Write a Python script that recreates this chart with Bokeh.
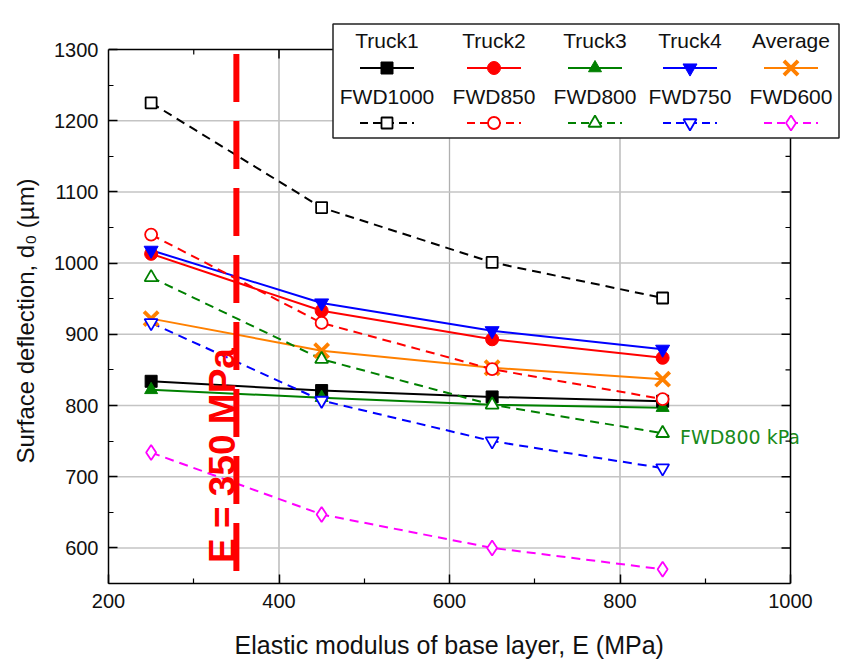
import math
from bokeh.plotting import figure
from bokeh.models import Range1d, FixedTicker
from bokeh.core.properties import value
from bokeh.embed import file_html
from bokeh.resources import INLINE

# ---------------- data ----------------
E = [250, 450, 650, 850]
truck1 = [834, 821, 812, 806]
truck2 = [1013, 933, 893, 867]
truck3 = [822, 811, 801, 797]
truck4 = [1018, 944, 905, 879]
average = [922, 877, 853, 837]
fwd1000 = [1225, 1078, 1001, 951]
fwd850 = [1040, 916, 851, 809]
fwd800 = [980, 865, 801, 761]
fwd750 = [916, 807, 750, 712]
fwd600 = [734, 647, 600, 570]

E_ref = 350
ref_text = "E = 350 MPa"
note_text = "FWD800 kPa"
x_title = "Elastic modulus of base layer, E (MPa)"
y_title = "Surface deflection, d\u2080 (\u00b5m)"

x_ticks = [200, 400, 600, 800, 1000]
x_minor = [300, 500, 700, 900]
y_ticks = [600, 700, 800, 900, 1000, 1100, 1200, 1300]
y_minor = [550, 650, 750, 850, 950, 1050, 1150, 1250]
X_MIN, X_MAX = 200, 1000
Y_MIN, Y_MAX = 550, 1300

# ---------------- layout helpers ----------------
SX = 0.8525   # px per x unit
SY = 0.712    # px per y unit
FRAME_W, FRAME_H = 737, 565
IMG_LEFT, IMG_BOTTOM = 107.5, 582.5   # image pixel of (X_MIN, Y_MIN)

def px2x(px):
    return X_MIN + (px - IMG_LEFT) / SX

def px2y(py):
    return Y_MIN + (IMG_BOTTOM - py) / SY

FONT = "Liberation Sans"
NBSP = "\u00a0"

p = figure(frame_width=FRAME_W, frame_height=FRAME_H,
           x_range=Range1d(X_MIN, X_MIN + FRAME_W / SX),
           y_range=Range1d(Y_MIN, Y_MIN + FRAME_H / SY),
           output_backend="svg", toolbar_location=None,
           min_border_left=108, min_border_right=8,
           min_border_top=18, min_border_bottom=76)
p.outline_line_color = None
p.xgrid.visible = False
p.ygrid.visible = False
p.background_fill_color = "white"
p.border_fill_color = "white"

for ax, ticks, minor, bounds in ((p.xaxis, x_ticks, x_minor, (X_MIN, X_MAX)),
                                 (p.yaxis, y_ticks, y_minor, (Y_MIN, Y_MAX))):
    ax.ticker = FixedTicker(ticks=ticks, minor_ticks=minor)
    ax.bounds = bounds
    ax.axis_line_width = 1.5
    ax.axis_line_color = "black"
    ax.major_tick_in = 9
    ax.major_tick_out = 0
    ax.minor_tick_in = 5
    ax.minor_tick_out = 0
    ax.major_tick_line_width = 1.5
    ax.minor_tick_line_width = 1.2
    ax.major_label_text_font = FONT
    ax.major_label_text_font_size = "20px"
    ax.major_label_text_color = "#111111"
    ax.major_label_standoff = 10
    ax.axis_label_text_font = FONT
    ax.axis_label_text_font_style = "normal"
    ax.axis_label_text_color = "#111111"

# the frame is wider/taller than the 200-1000 x 550-1300 box (room for the legend),
# so the titles are padded with no-break spaces to centre them on the box
p.xaxis.axis_label = x_title + NBSP * 8
p.xaxis.axis_label_text_font_size = "25px"
p.xaxis.axis_label_standoff = 20
p.yaxis.axis_label = y_title + NBSP * 6
p.yaxis.axis_label_text_font_size = "24px"
p.yaxis.axis_label_standoff = 12

# grid lines (inside the box only)
gx = [t for t in x_ticks if X_MIN < t < X_MAX]
gy = [t for t in y_ticks if Y_MIN < t < Y_MAX]
p.segment(x0=gx, y0=[Y_MIN] * len(gx), x1=gx, y1=[Y_MAX] * len(gx),
          line_color="#b0b0b0", line_width=1.3)
p.segment(x0=[X_MIN] * len(gy), y0=gy, x1=[X_MAX] * len(gy), y1=gy,
          line_color="#c4c4c4", line_width=1.5)

# ---------------- series ----------------
DASH = "9 6"
solid_series = [
    (truck1, "black", "square", 12, "black"),
    (truck2, "red", "circle", 13, "red"),
    (truck3, "#008000", "triangle", 13, "#008000"),
    (truck4, "blue", "inverted_triangle", 14, "blue"),
]
for ys, col, mk, sz, fc in solid_series:
    p.line(E, ys, line_color=col, line_width=2)
p.line(E, average, line_color="#ff8000", line_width=2)

dashed_series = [
    (fwd1000, "black", "square", 11),
    (fwd850, "red", "circle", 12),
    (fwd800, "#008000", "triangle", 13),
    (fwd750, "blue", "inverted_triangle", 13),
    (fwd600, "#ff00ff", "diamond", 15),
]
for ys, col, mk, sz in dashed_series:
    p.line(E, ys, line_color=col, line_width=2, line_dash=DASH)

for ys, col, mk, sz, fc in solid_series:
    p.scatter(E, ys, marker=mk, size=sz, fill_color=fc, line_color=col, line_width=1)
p.scatter(E, average, marker="x", size=20, line_color="#ff8000", line_width=3.8)
for ys, col, mk, sz in dashed_series:
    p.scatter(E, ys, marker=mk, size=sz, fill_color="white", line_color=col, line_width=1.8)

# reference line E = 350 MPa
p.line([E_ref, E_ref], [px2y(53), Y_MIN], line_color="red", line_width=6, line_dash="48 19")
p.text(x=[E_ref - (235.5 - 222) / SX], y=[px2y(562)], text=[ref_text], angle=math.pi / 2,
       text_font=value(FONT), text_font_size="37px", text_font_style="bold",
       text_color="red", text_align="left", text_baseline="middle")

# annotation text
p.text(x=[px2x(679)], y=[px2y(436)], text=[note_text],
       text_font=value("DejaVu Sans"), text_font_size="19px",
       text_color="#1a8a1a", text_align="left", text_baseline="middle")

# frame top / right with inward ticks
p.segment(x0=[X_MIN, X_MAX], y0=[Y_MAX, Y_MIN], x1=[X_MAX, X_MAX], y1=[Y_MAX, Y_MAX],
          line_color="black", line_width=1.5)
tx = [t for t in x_ticks if X_MIN < t < X_MAX]
p.segment(x0=tx, y0=[Y_MAX] * len(tx), x1=tx, y1=[Y_MAX - 9 / SY] * len(tx),
          line_color="black", line_width=1.5)
p.segment(x0=x_minor, y0=[Y_MAX] * len(x_minor), x1=x_minor, y1=[Y_MAX - 5 / SY] * len(x_minor),
          line_color="black", line_width=1.2)
ty = [t for t in y_ticks if Y_MIN < t < Y_MAX]
p.segment(x0=[X_MAX] * len(ty), y0=ty, x1=[X_MAX - 9 / SX] * len(ty), y1=ty,
          line_color="black", line_width=1.5)
p.segment(x0=[X_MAX] * len(y_minor), y0=y_minor, x1=[X_MAX - 5 / SX] * len(y_minor), y1=y_minor,
          line_color="black", line_width=1.2)

# ---------------- legend ----------------
p.quad(left=[px2x(332)], right=[px2x(838)], top=[px2y(23)], bottom=[px2y(137)],
       fill_color="white", line_color="#222222", line_width=1.5)

col_px = [386, 493, 594, 689, 790]
legend_rows = [
    # (label_y, glyph_y, entries)
    (39, 67, [("Truck1", "black", "square", 12, "black", None),
              ("Truck2", "red", "circle", 13, "red", None),
              ("Truck3", "#008000", "triangle", 13, "#008000", None),
              ("Truck4", "blue", "inverted_triangle", 14, "blue", None),
              ("Average", "#ff8000", "x", 20, None, None)]),
    (95, 122, [("FWD1000", "black", "square", 11, "white", DASH),
               ("FWD850", "red", "circle", 12, "white", DASH),
               ("FWD800", "#008000", "triangle", 13, "white", DASH),
               ("FWD750", "blue", "inverted_triangle", 13, "white", DASH),
               ("FWD600", "#ff00ff", "diamond", 15, "white", DASH)]),
]
for ly, gy_px, entries in legend_rows:
    for cx, (lab, col, mk, sz, fc, dash) in zip(col_px, entries):
        p.text(x=[px2x(cx)], y=[px2y(ly)], text=[lab], text_font=value(FONT),
               text_font_size="21px", text_color="#111111",
               text_align="center", text_baseline="middle")
        kw = dict(line_color=col, line_width=2)
        if dash:
            kw["line_dash"] = "8 5"
        p.line([px2x(cx - 27), px2x(cx + 27)], [px2y(gy_px)] * 2, **kw)
        if mk == "x":
            p.scatter([px2x(cx)], [px2y(gy_px)], marker="x", size=sz,
                      line_color=col, line_width=3.8)
        else:
            p.scatter([px2x(cx)], [px2y(gy_px)], marker=mk, size=sz,
                      fill_color=fc, line_color=col,
                      line_width=1.8 if fc == "white" else 1)

open("out.html", "w").write(file_html(p, INLINE))
